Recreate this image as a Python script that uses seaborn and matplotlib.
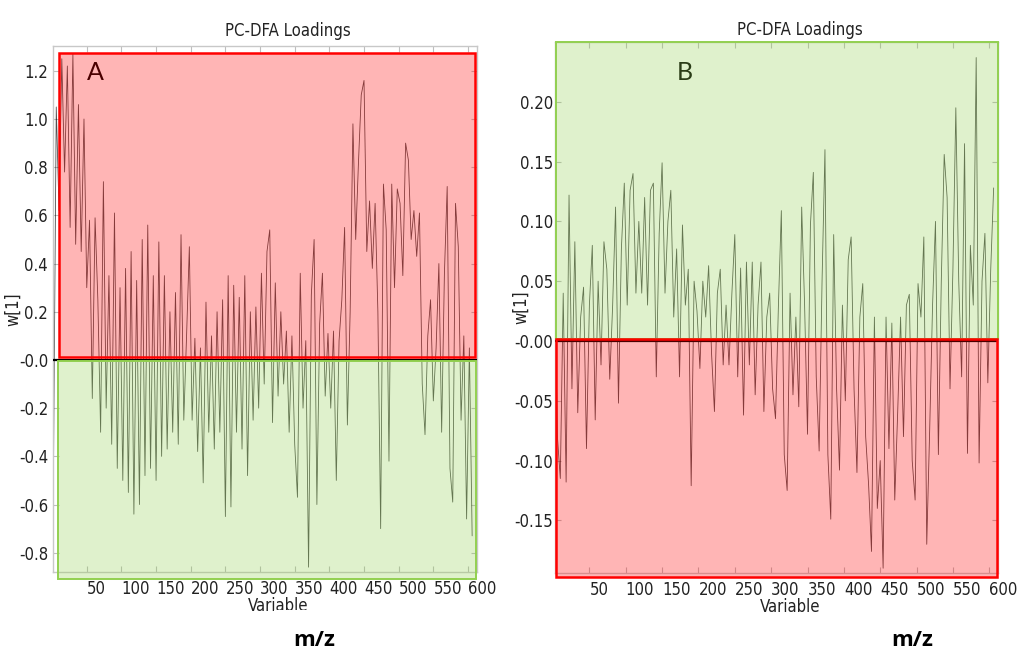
import matplotlib
matplotlib.use("Agg")
import matplotlib.pyplot as plt
import seaborn as sns
import pandas as pd
from matplotlib.patches import Rectangle
from matplotlib import font_manager

# variable index (every 4th m/z channel)
variable = list(range(2, 610, 4))

loadings_a = [
    -0.45, 1.05, 0.62, 1.25, 0.78, 1.22, 0.55, 1.27, 0.48, 1.06,
    0.45, 1.00, 0.30, 0.58, -0.16, 0.59, 0.25, -0.30, 0.74, -0.20,
    0.35, -0.35, 0.61, -0.45, 0.30, -0.50, 0.38, -0.55, 0.45, -0.64,
    0.33, -0.60, 0.50, -0.48, 0.56, -0.45, 0.35, -0.50, 0.49, -0.40,
    0.35, -0.37, 0.20, -0.30, 0.28, -0.35, 0.52, -0.25, 0.10, 0.47,
    -0.25, 0.09, -0.38, 0.05, -0.51, 0.24, -0.30, 0.10, -0.37, 0.20,
    -0.30, 0.25, -0.65, 0.35, -0.61, 0.31, -0.30, 0.26, -0.37, 0.35,
    -0.48, 0.20, -0.25, 0.22, -0.20, 0.36, -0.10, 0.45, 0.54, -0.26,
    0.32, -0.15, 0.20, -0.10, 0.12, -0.30, 0.10, -0.35, -0.57, 0.36,
    -0.20, 0.08, -0.86, 0.27, 0.50, -0.60, 0.15, 0.36, -0.15, 0.11,
    -0.20, 0.12, -0.50, 0.08, 0.25, 0.55, -0.27, 0.20, 0.98, 0.50,
    0.82, 1.10, 1.16, 0.45, 0.66, 0.38, 0.65, 0.20, -0.70, 0.73,
    0.54, -0.42, 0.73, 0.30, 0.71, 0.65, 0.35, 0.90, 0.83, 0.50,
    0.62, 0.43, 0.61, -0.10, -0.31, 0.10, 0.25, -0.17, 0.05, 0.40,
    -0.30, 0.36, 0.72, -0.45, -0.59, 0.65, 0.47, -0.25, 0.10, -0.66,
    0.05, -0.73,
]

loadings_b = [
    0.060, -0.080, -0.115, 0.040, -0.118, 0.122, -0.040, 0.083, -0.060, 0.020,
    0.045, -0.090, 0.030, 0.080, -0.066, 0.050, -0.020, 0.083, 0.060, -0.032,
    0.030, 0.112, -0.052, 0.077, 0.132, 0.030, 0.126, 0.140, 0.040, 0.100,
    0.040, 0.120, 0.030, 0.126, 0.132, -0.030, 0.090, 0.149, 0.040, 0.100,
    0.126, 0.020, 0.077, -0.030, 0.097, 0.030, 0.060, -0.121, 0.050, 0.025,
    -0.023, 0.050, 0.020, 0.063, -0.010, -0.059, 0.040, 0.060, -0.020, 0.030,
    -0.020, 0.040, 0.089, -0.030, 0.061, -0.062, 0.066, -0.020, 0.066, -0.045,
    0.030, 0.066, -0.059, 0.020, 0.040, -0.040, -0.065, 0.030, 0.109, -0.095,
    -0.125, 0.040, -0.045, 0.020, -0.055, 0.112, 0.030, -0.078, 0.097, 0.141,
    -0.030, -0.092, 0.050, 0.160, -0.095, -0.149, 0.089, -0.040, -0.108, 0.030,
    -0.050, 0.068, 0.087, -0.040, -0.110, 0.020, 0.048, -0.080, -0.120, -0.176,
    0.020, -0.140, -0.100, -0.190, 0.020, -0.090, 0.015, -0.133, -0.060, 0.020,
    -0.080, 0.030, 0.039, -0.100, -0.133, 0.048, 0.020, 0.087, -0.170, -0.075,
    0.030, 0.100, -0.095, 0.050, 0.156, 0.120, -0.040, 0.060, 0.195, 0.050,
    -0.030, 0.165, -0.094, 0.080, 0.030, 0.237, -0.102, 0.050, 0.090, -0.035,
    0.060, 0.128,
]

x_ticks = [50, 100, 150, 200, 250, 300, 350, 400, 450, 500, 550, 600]
x_tick_labels = [str(t) for t in x_ticks]
y_ticks_a = [1.2, 1.0, 0.8, 0.6, 0.4, 0.2, 0.0, -0.2, -0.4, -0.6, -0.8]
y_tick_labels_a = ["1.2", "1.0", "0.8", "0.6", "0.4", "0.2", "-0.0",
                   "-0.2", "-0.4", "-0.6", "-0.8"]
y_ticks_b = [0.20, 0.15, 0.10, 0.05, 0.0, -0.05, -0.10, -0.15]
y_tick_labels_b = ["0.20", "0.15", "0.10", "0.05", "-0.00",
                   "-0.05", "-0.10", "-0.15"]

sns.set_theme(style="white")

# pick a narrow face for the axis text when one is installed
narrow = None
for f in font_manager.fontManager.ttflist:
    name = f.fname.lower()
    if ("condensed" in name or "narrow" in name) and not any(
            k in name for k in ("bold", "oblique", "italic", "light")):
        narrow = f.fname
        break
if narrow:
    narrow_family = font_manager.FontProperties(fname=narrow).get_name()
else:
    narrow_family = "DejaVu Sans"
plt.rcParams["font.family"] = [narrow_family, "DejaVu Sans"]
AX_FONT = dict(fname=narrow) if narrow else dict(family="DejaVu Sans")

W, H = 1019, 653
fig = plt.figure(figsize=(W / 100, H / 100), dpi=100)


def frect(x0, y0, x1, y1):
    return [x0 / W, 1 - y1 / H, (x1 - x0) / W, (y1 - y0) / H]


ax_a = fig.add_axes(frect(53, 46, 477, 572))
ax_b = fig.add_axes(frect(555, 42, 998, 573))

panels = [
    (ax_a, loadings_a, (1.3, 613), (-0.88, 1.303), y_ticks_a, y_tick_labels_a, 3.6, -0.072),
    (ax_b, loadings_b, (2.7, 612), (-0.194, 0.25), y_ticks_b, y_tick_labels_b, 1.5, -0.056),
]

fp = font_manager.FontProperties(size=12, **AX_FONT)

for ax, vals, xlim, ylim, yt, ytl, ypad, ylab_x in panels:
    df = pd.DataFrame({"Variable": variable, "w[1]": vals})
    sns.lineplot(data=df, x="Variable", y="w[1]", ax=ax, color="black",
                 lw=0.6, alpha=0.68, estimator=None)
    ax.axhline(0, color="black", lw=1.6, zorder=3)
    ax.set_xlim(*xlim)
    ax.set_ylim(*ylim)
    ax.set_xticks(x_ticks)
    ax.set_xticklabels(x_tick_labels, ha="left", fontproperties=fp)
    ax.set_yticks(yt)
    ax.set_yticklabels(ytl, fontproperties=fp)
    ax.tick_params(direction="in", length=4, width=0.8, color="#bdbdbd",
                   top=True, right=True, bottom=True, left=True,
                   labelcolor="#222222")
    ax.tick_params(axis="x", pad=6)
    ax.tick_params(axis="y", pad=ypad)
    for s in ax.spines.values():
        s.set_color("#c8c8c8")
        s.set_linewidth(1.0)
    ax.set_facecolor("white")
    ax.set_title("PC-DFA Loadings", fontproperties=fp, color="#222222", x=0.553,
                 pad=7 if ax is ax_a else 5)
    ax.set_xlabel("Variable", fontproperties=fp, color="#222222", va="top")
    ax.set_ylabel("w[1]", fontproperties=fp, color="#222222")
    ax.xaxis.set_label_coords(0.53, -0.048)
    ax.yaxis.set_label_coords(ylab_x, 0.5)

# panel letters (drawn beneath the tinted overlays)
ax_a.text(95 / W, 1 - 72 / H, "A", transform=fig.transFigure, fontsize=18,
          family=["Lato", "DejaVu Sans"], color="black", ha="center", va="center")
ax_b.text(685 / W, 1 - 72 / H, "B", transform=fig.transFigure, fontsize=18,
          family=["Lato", "DejaVu Sans"], color="black", ha="center", va="center")

RED = (1.0, 0.0, 0.0)
GREEN = (0.573, 0.816, 0.314)


def overlay(x0, y0, x1, y1, rgb, lw):
    fig.add_artist(Rectangle((x0 / W, 1 - y1 / H), (x1 - x0) / W, (y1 - y0) / H,
                             transform=fig.transFigure,
                             facecolor=(*rgb, 0.29), edgecolor=rgb,
                             lw=lw, zorder=5))


# positive / negative loading regions
overlay(59, 53, 475, 357, RED, 1.8)
overlay(58, 361, 476, 579, GREEN, 1.4)
overlay(556, 42, 998, 339, GREEN, 1.4)
overlay(556, 339, 997, 577, RED, 1.8)

for xc in (314, 912):
    fig.text(xc / W, 1 - 640 / H, "m/z", ha="center", va="center",
             fontsize=16, fontweight="bold", family=["Open Sans", "DejaVu Sans"],
             color="black",
             bbox=dict(facecolor="white", edgecolor="none", pad=14))

fig.savefig("out.png", dpi=100)
